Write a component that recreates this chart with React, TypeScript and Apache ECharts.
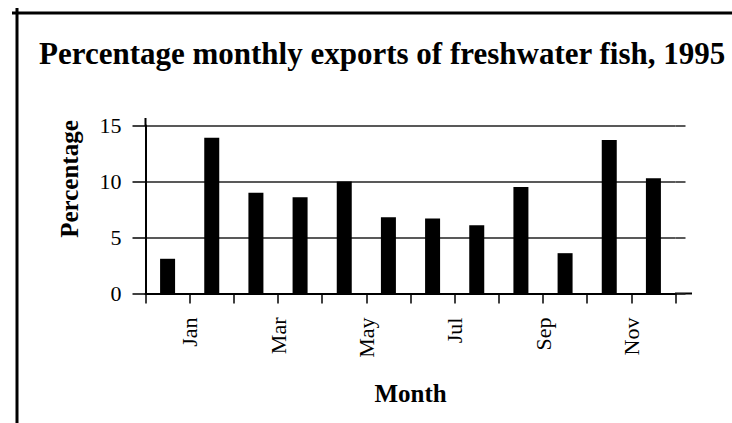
import React, { useEffect, useRef } from "react";
import * as echarts from "echarts";

const months = ["Jan", "Feb", "Mar", "Apr", "May", "Jun", "Jul", "Aug", "Sep", "Oct", "Nov", "Dec"];
const exportsPct = [3.1, 13.9, 9.0, 8.6, 10.0, 6.8, 6.7, 6.1, 9.5, 3.6, 13.7, 10.3];
const tickLabels = ["", "Jan", "", "Mar", "", "May", "", "Jul", "", "Sep", "", "Nov", ""];
const yTicks = { min: 0, max: 15, interval: 5 };

const SERIF = '"Liberation Serif", "Times New Roman", serif';

export default function App() {
  const ref = useRef<HTMLDivElement>(null);
  useEffect(() => {
    if (!ref.current) return;
    const chart = echarts.init(ref.current, null, { renderer: "svg" });
    chart.setOption({
      animation: false,
      backgroundColor: "#fff",
      title: {
        text: "Percentage monthly exports of freshwater fish, 1995",
        left: 39,
        top: 38,
        padding: 0,
        textStyle: { fontFamily: SERIF, fontWeight: "bold", fontSize: 31, color: "#000" },
      },
      grid: { left: 145.5, top: 125.5, width: 530, height: 168 },
      xAxis: [
        {
          type: "category",
          position: "bottom",
          data: months,
          boundaryGap: true,
          name: "Month",
          nameLocation: "middle",
          nameGap: 87,
          nameTextStyle: { fontFamily: SERIF, fontWeight: "bold", fontSize: 25, color: "#000" },
          axisLine: { show: true, lineStyle: { color: "#000", width: 2 } },
          axisTick: { show: true, length: 10, lineStyle: { color: "#000", width: 1.5 } },
          axisLabel: { show: false },
          splitLine: { show: false },
        },
        {
          type: "category",
          position: "bottom",
          data: tickLabels,
          boundaryGap: false,
          axisLine: { show: false },
          axisTick: { show: false },
          axisLabel: {
            show: true,
            interval: 0,
            rotate: 90,
            margin: 24,
            fontFamily: SERIF,
            fontSize: 22,
            color: "#000",
          },
          splitLine: { show: false },
        },
      ],
      yAxis: [
        {
          type: "value",
          position: "left",
          ...yTicks,
          axisLine: { show: true, lineStyle: { color: "#000", width: 2 } },
          axisTick: { show: true, length: 13, lineStyle: { color: "#000", width: 1.5 } },
          axisLabel: { margin: 24, fontFamily: SERIF, fontSize: 22, color: "#000" },
          splitLine: { show: true, lineStyle: { color: "#222", width: 1.5 } },
        },
        {
          type: "value",
          position: "right",
          ...yTicks,
          axisLine: { show: false },
          axisTick: { show: true, length: 10, lineStyle: { color: "#222", width: 1.5 } },
          axisLabel: { show: false },
          splitLine: { show: false },
        },
      ],
      series: [
        {
          type: "bar",
          xAxisIndex: 0,
          yAxisIndex: 0,
          data: exportsPct,
          barWidth: 15,
          itemStyle: { color: "#000" },
        },
      ],
      graphic: [
        { type: "line", shape: { x1: 12, y1: 13, x2: 732, y2: 13 }, style: { stroke: "#000", lineWidth: 3 } },
        { type: "line", shape: { x1: 17, y1: 8, x2: 17, y2: 423 }, style: { stroke: "#000", lineWidth: 3 } },
        { type: "line", shape: { x1: 145.5, y1: 118, x2: 145.5, y2: 126 }, style: { stroke: "#000", lineWidth: 2 } },
        { type: "line", shape: { x1: 675, y1: 293.5, x2: 692, y2: 293.5 }, style: { stroke: "#000", lineWidth: 2 } },
        {
          type: "text",
          x: 69,
          y: 179,
          rotation: Math.PI / 2,
          style: {
            text: "Percentage",
            fontFamily: SERIF,
            fontWeight: "bold",
            fontSize: 25,
            fill: "#000",
            align: "center",
            verticalAlign: "middle",
          },
        },
      ],
    });
    return () => chart.dispose();
  }, []);
  return (
    <div
      ref={ref}
      style={{ position: "fixed", left: 0, top: 0, width: 732, height: 423, background: "#fff" }}
    />
  );
}
